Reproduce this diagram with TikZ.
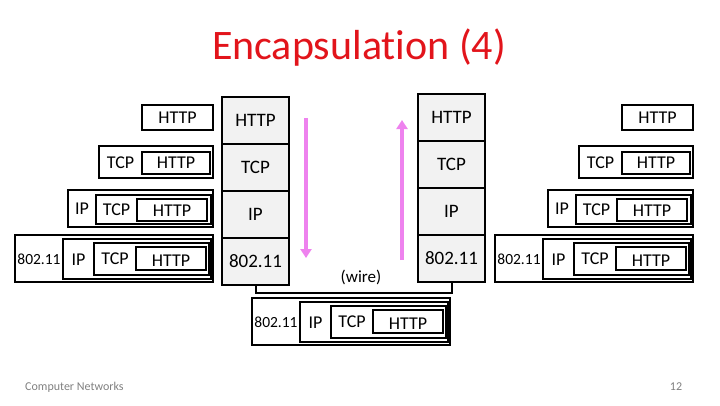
\documentclass[tikz,border=0pt]{standalone}
\usepackage{fontspec}
\setmainfont{Carlito}[Ligatures=CommonOff]
\usetikzlibrary{arrows.meta,positioning,calc}
\definecolor{ink}{HTML}{000000}
\definecolor{titlered}{HTML}{E2141B}
\definecolor{layerfill}{HTML}{F2F2F2}
\definecolor{violetarrow}{HTML}{EE82EE}
\definecolor{muted}{HTML}{808080}
\tikzset{
  >={Triangle[length=9pt,width=11pt]},
  pkt/.style={draw=ink,line width=1.1pt,inner sep=0pt,outer sep=0pt,anchor=north west},
  layer/.style={draw=ink,fill=layerfill,line width=2pt,minimum width=67pt,minimum height=47pt,inner sep=0pt,outer sep=0pt,font=\fontsize{19}{21}\selectfont},
  tag/.style={inner sep=0pt,font=\fontsize{18}{20}\selectfont},
  tagsmall/.style={inner sep=0pt,font=\fontsize{15.5}{17}\selectfont},
  pinkflow/.style={->,line width=3.5pt,color=violetarrow},
  wire/.style={line width=2pt,color=ink},
}
\begin{document}
\begin{tikzpicture}[x=1pt,y=-1pt]
  \useasboundingbox (0,0) rectangle (720,405);
  \node[font=\fontsize{42}{46}\selectfont,text=titlered,anchor=base] (title) at (359,59) {Encapsulation (4)};

  % sender and receiver: upper three packets
  \foreach \s/\dx in {L/0,R/480} {
    \begin{scope}[shift={(\dx,0)}]
      \node[pkt,minimum width=71pt,minimum height=25pt] (\s1) at (142,105) {};
      \node[tag] (\s1http) at (\s1.center) {HTTP};

      \node[pkt,minimum width=114pt,minimum height=32pt] (\s2o) at (99,146) {};
      \node[pkt,minimum width=68pt,minimum height=22pt] (\s2i) at (142,152) {};
      \node[tag] (\s2tcp) at ($(\s2o.west)!.5!(\s2i.west)$) {TCP};
      \node[tag] (\s2http) at (\s2i.center) {HTTP};

      \node[pkt,minimum width=145pt,minimum height=37pt] (\s3o) at (68,190) {};
      \node[pkt,minimum width=115pt,minimum height=29pt] (\s3t) at (96,195) {};
      \node[pkt,minimum width=70pt,minimum height=22pt] (\s3h) at (137,199) {};
      \node[tag] (\s3ip) at ($(\s3o.west)!.5!(\s3t.west)$) {IP};
      \node[tag] (\s3tcp) at ($(\s3t.west)!.5!(\s3h.west)$) {TCP};
      \node[tag] (\s3http) at ($(\s3h.center)+(0,1)$) {HTTP};
    \end{scope}
  }

  % full frames: sender, receiver, on the wire
  \foreach \s/\dx/\dy in {L/0/0,R/480/0,W/237/63} {
    \begin{scope}[shift={(\dx,\dy)}]
      \node[pkt,minimum width=198pt,minimum height=47pt] (\s4o) at (15,235) {};
      \node[pkt,minimum width=148pt,minimum height=40pt] (\s4p) at (63,239) {};
      \node[pkt,minimum width=115pt,minimum height=32pt] (\s4t) at (94,243) {};
      \node[pkt,minimum width=70pt,minimum height=23pt] (\s4h) at (136,247) {};
      \node[tagsmall] (\s4mac) at ($(\s4o.west)!.5!(\s4p.west)+(0,1)$) {802.11};
      \node[tag] (\s4ip) at ($(\s4p.west)!.5!(\s4t.west)+(0,1)$) {IP};
      \node[tag] (\s4tcp) at ($(\s4t.west)!.5!(\s4h.west)$) {TCP};
      \node[tag] (\s4http) at ($(\s4h.center)+(0,2)$) {HTTP};
    \end{scope}
  }

  % protocol stacks
  \node[layer,anchor=north west] (lhttp) at (222,97) {HTTP};
  \node[layer,below=0pt of lhttp] (ltcp) {TCP};
  \node[layer,below=0pt of ltcp] (lip) {IP};
  \node[layer,below=0pt of lip] (l802) {802.11};

  \node[layer,anchor=north west] (rhttp) at (418,94) {HTTP};
  \node[layer,below=0pt of rhttp] (rtcp) {TCP};
  \node[layer,below=0pt of rtcp] (rip) {IP};
  \node[layer,below=0pt of rip] (r802) {802.11};

  \coordinate (downtop) at (306,118);
  \coordinate (downbot) at (306,258);
  \coordinate (upbot) at (402,260);
  \coordinate (uptop) at (402,120);
  \draw[pinkflow] (downtop) -- (downbot);
  \draw[pinkflow] (upbot) -- (uptop);

  \node[font=\fontsize{17}{19}\selectfont] (wirelabel) at (361,277) {(wire)};
  \draw[wire] (l802.south) -- ++(0,8) -| (r802.south);

  \node[font=\fontsize{12}{14}\selectfont,text=muted,anchor=west,inner sep=0pt] (footer) at (25,387) {Computer Networks};
  \node[font=\fontsize{12}{14}\selectfont,text=muted,inner sep=0pt] (pagenum) at (676,387) {12};
\end{tikzpicture}
\end{document}
